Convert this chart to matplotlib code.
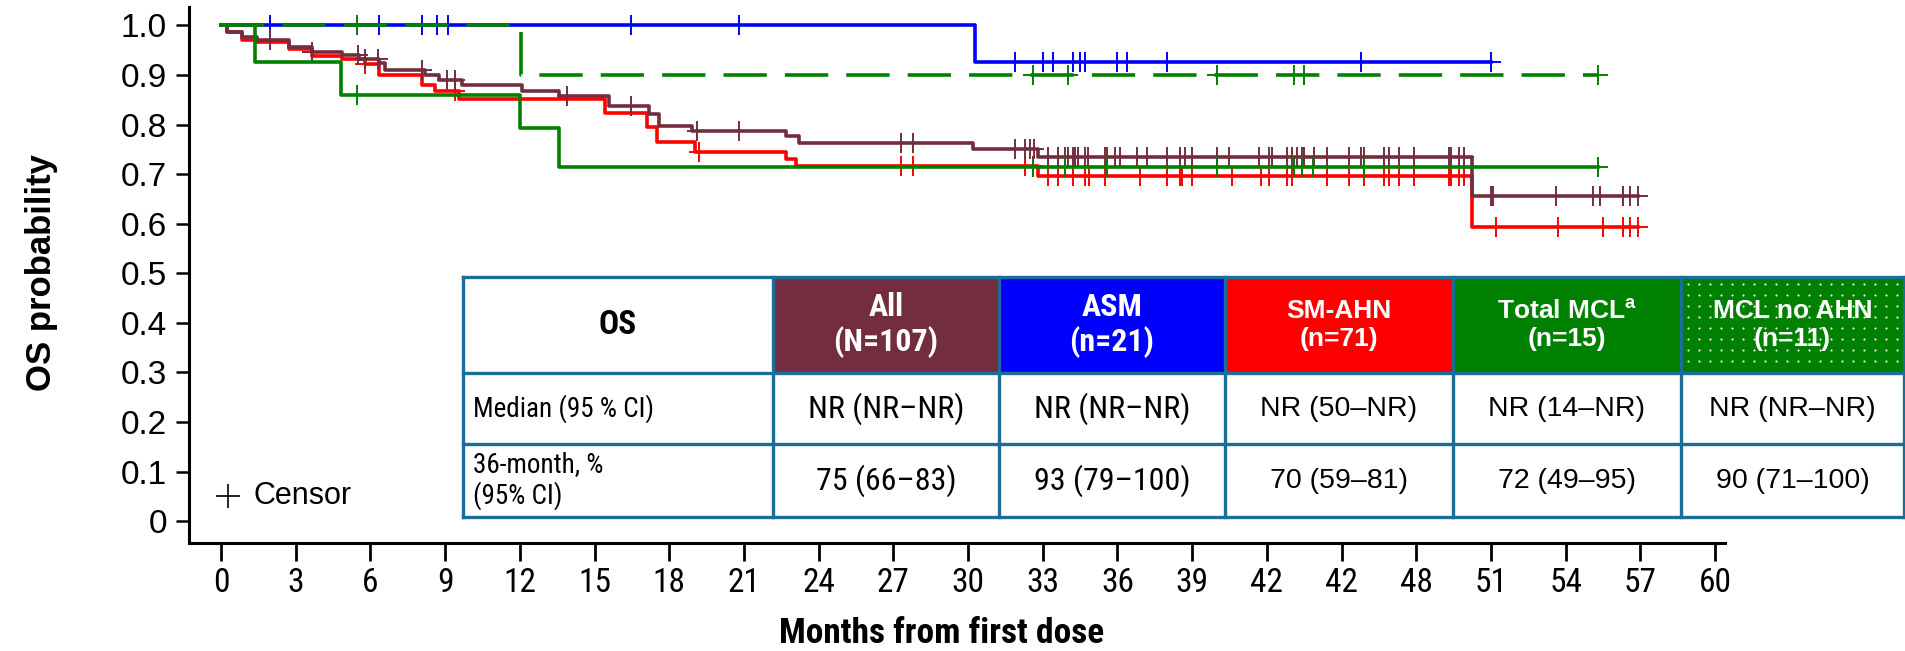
import numpy as np
import matplotlib
matplotlib.use("Agg")
import matplotlib.pyplot as plt
from matplotlib.patches import Rectangle

plt.rcParams['font.family'] = ['Liberation Sans', 'DejaVu Sans']
plt.rcParams['mathtext.fontset'] = 'custom'
plt.rcParams['mathtext.bf'] = 'Liberation Sans:bold'
plt.rcParams['mathtext.rm'] = 'Liberation Sans'
# condensed look for some labels, first installed one wins
NARROW = ['Liberation Sans Narrow', 'Roboto Condensed', 'DejaVu Sans Condensed',
          'Liberation Sans']
REGULAR = ['Liberation Sans', 'DejaVu Sans']

# ---- curve data ----
# step times (months) and survival after each step, plus censor times
all_t = [0, 0.24, 0.84, 1.45, 2.72, 3.65, 4.86, 5.53, 6.33, 6.6, 8.2, 8.74, 9.68,
         12.08, 13.56, 15.57, 17.2, 17.6, 18.9, 22.7, 23.2, 30.2, 32.8, 50.25]
all_s = [1.0, 0.986, 0.976, 0.97, 0.956, 0.947, 0.941, 0.932, 0.924, 0.91, 0.899, 0.89, 0.88,
         0.868, 0.858, 0.838, 0.821, 0.797, 0.787, 0.777, 0.762, 0.75, 0.735, 0.655]
all_cens = [1.96, 3.65, 5.49, 5.8, 6.3, 8.07, 9.08, 9.41, 13.9, 16.45, 19.1, 20.8, 27.3, 27.8,
            31.9, 32.3, 32.5, 32.65, 33.2, 33.6, 33.9, 34.0, 34.2, 34.3, 34.4, 34.7, 34.8,
            35.5, 35.6, 35.9, 36.1, 36.8, 37.2, 38.0, 38.5, 38.7, 39.0, 40.0, 40.5, 41.7,
            42.1, 42.2, 42.8, 43.0, 43.2, 43.4, 43.5, 43.9, 44.4, 45.3, 45.8, 45.9, 46.7,
            46.9, 47.3, 47.9, 49.3, 49.4, 49.7, 49.9, 51.0, 51.1, 53.6, 55.1, 55.4, 56.3,
            56.6, 56.9]

asm_t = [0, 30.3]
asm_s = [1.0, 0.926]
asm_cens = [1.96, 6.35, 8.07, 8.67, 9.12, 16.45, 20.8, 31.9, 33.0, 33.4, 34.2, 34.5, 34.7,
            36.0, 36.4, 38.0, 45.8, 51.0]

ahn_t = [0, 0.24, 0.84, 1.45, 2.72, 3.65, 4.86, 5.8, 6.33, 8.07, 8.6, 9.55, 15.43, 17.1,
         17.5, 19.05, 22.7, 23.1, 32.8, 50.25]
ahn_s = [1.0, 0.986, 0.971, 0.966, 0.953, 0.939, 0.932, 0.922, 0.899, 0.88, 0.868, 0.851,
         0.824, 0.794, 0.764, 0.745, 0.73, 0.717, 0.697, 0.593]
ahn_cens = [5.8, 9.4, 19.2, 27.3, 27.8, 32.3, 32.6, 33.2, 33.6, 34.2, 34.7, 34.85, 35.5,
            36.9, 38.0, 38.5, 38.6, 39.0, 40.6, 41.75, 42.1, 42.8, 43.0, 44.4, 45.3, 45.9,
            46.7, 46.9, 47.3, 47.9, 49.3, 49.4, 49.7, 49.9, 51.2, 53.7, 55.5, 56.3, 56.6, 56.9]

mcl_t = [0, 1.37, 4.8, 12.0, 13.56]
mcl_s = [1.0, 0.927, 0.859, 0.792, 0.714]
mcl_cens = [5.45, 32.6, 33.9, 35.6, 40.0, 43.1, 43.4, 43.85, 45.9, 55.3]

mclna_t = [0, 12.05]
mclna_s = [1.0, 0.9]
mclna_cens = [5.45, 32.6, 34.0, 40.0, 43.1, 43.5, 55.3]

x_ticks = [0, 3, 6, 9, 12, 15, 18, 21, 24, 27, 30, 33, 36, 39, 42, 45, 48, 51, 54, 57, 60]
x_labels = ['0', '3', '6', '9', '12', '15', '18', '21', '24', '27', '30', '33', '36', '39',
            '42', '42', '48', '51', '54', '57', '60']
y_ticks = [0, 0.1, 0.2, 0.3, 0.4, 0.5, 0.6, 0.7, 0.8, 0.9, 1.0]
y_labels = ['0', '0.1', '0.2', '0.3', '0.4', '0.5', '0.6', '0.7', '0.8', '0.9', '1.0']

# ---- table contents ----
col_heads = ['All\n(N=107)', 'ASM\n(n=21)', 'SM-AHN\n(n=71)',
             'Total MCL$^{\\mathbf{a}}$\n(n=15)', 'MCL no AHN\n(n=11)']
median_row = ['NR (NR\u2013NR)', 'NR (NR\u2013NR)', 'NR (50\u2013NR)', 'NR (14\u2013NR)',
              'NR (NR\u2013NR)']
m36_row = ['75 (66\u201383)', '93 (79\u2013100)', '70 (59\u201381)', '72 (49\u201395)',
           '90 (71\u2013100)']

MAROON = '#722E3F'
BLUE = '#0000FF'
RED = '#FF0000'
GREEN = '#008000'
TEAL = '#1A6E98'
head_colors = [MAROON, BLUE, RED, GREEN, GREEN]


def step_at(t, s, c):
    idx = np.searchsorted(t, c, side='right') - 1
    return np.array(s)[idx]


fig = plt.figure(figsize=(19.06, 6.51), dpi=100)
ax = fig.add_axes([189 / 1906, 1 - 543 / 651, (1725 - 189) / 1906, (543 - 7) / 651])

curves = [
    (asm_t, asm_s, asm_cens, BLUE, '-', 2),
    (ahn_t, ahn_s, ahn_cens, RED, '-', 3),
    (all_t, all_s, all_cens, MAROON, '-', 4),
    (mcl_t, mcl_s, mcl_cens, GREEN, '-', 5),
    (mclna_t, mclna_s, mclna_cens, GREEN, (0, (12, 5)), 6),
]
for t, s, cens, col, ls, z in curves:
    end = max(cens)
    ax.step(t + [end], s + [s[-1]], where='post', color=col, lw=2.6, ls=ls, zorder=z)
    ax.plot(cens, step_at(t, s, cens), ls='none', marker='+', ms=15, mew=1.4,
            color=col, zorder=z)

ax.set_xlim(-1.285, 60.4)
ax.set_ylim(-0.044, 1.037)
ax.set_xticks(x_ticks)
ax.set_xticklabels(x_labels, family=NARROW, fontsize=24)
ax.set_yticks(y_ticks)
ax.set_yticklabels(y_labels, fontsize=24)
ax.tick_params(axis='x', direction='out', length=13, width=2, pad=4)
ax.tick_params(axis='y', direction='out', length=9.5, width=1.8, pad=6.5)
for side in ['top', 'right']:
    ax.spines[side].set_visible(False)
for side in ['left', 'bottom']:
    ax.spines[side].set_linewidth(2.2)
ax.set_xlabel('Months from first dose', family=NARROW, fontsize=25.5, fontweight='bold',
              va='center')
ax.xaxis.set_label_coords(0.49, -0.168)
ax.set_ylabel('OS probability', fontsize=25, fontweight='bold')
ax.yaxis.set_label_coords(-0.085, 0.504)

# censor legend
ax.plot([0.0254], [0.088], marker='+', ms=17, mew=1.2, color='black', ls='none',
        transform=ax.transAxes)
ax.text(0.0417, 0.088, 'Censor', transform=ax.transAxes, fontsize=22, va='center')

# ---- table overlay ----
tab = fig.add_axes([0, 0, 1, 1], zorder=10)
tab.set_xlim(0, 1906)
tab.set_ylim(651, 0)
tab.axis('off')

xe = [463, 773, 999, 1225, 1453, 1681, 1904]
ye = [277, 373, 444, 517]

# white background behind the table
tab.add_patch(Rectangle((xe[0], ye[0]), xe[-1] - xe[0], ye[-1] - ye[0],
                        facecolor='white', edgecolor='none', zorder=1))
for j, (head, hc) in enumerate(zip(col_heads, head_colors)):
    x0, x1 = xe[j + 1], xe[j + 2]
    tab.add_patch(Rectangle((x0, ye[0]), x1 - x0, ye[1] - ye[0], facecolor=hc,
                            edgecolor='none', zorder=2))
    if j == 4:
        # white dot pattern of the last header cell
        gx, gy = np.meshgrid(np.arange(x0 + 7, x1 - 3, 11), np.arange(ye[0] + 7, ye[1] - 3, 11))
        tab.scatter(gx.ravel(), gy.ravel(), s=2.2, color='white', lw=0, zorder=3)
    if j < 2:
        fam, hsize, bsize = NARROW, 23, 23
    else:
        fam, hsize, bsize = REGULAR, 19, 20.5
    tab.text((x0 + x1) / 2, (ye[0] + ye[1]) / 2, head, ha='center', va='center',
             color='white', fontweight='bold', fontsize=hsize, family=fam,
             linespacing=1.2, zorder=4)
    tab.text((x0 + x1) / 2, (ye[1] + ye[2]) / 2, median_row[j], ha='center',
             va='center', fontsize=bsize, family=fam, zorder=4)
    tab.text((x0 + x1) / 2, (ye[2] + ye[3]) / 2, m36_row[j], ha='center',
             va='center', fontsize=bsize, family=fam, zorder=4)

tab.text((xe[0] + xe[1]) / 2, (ye[0] + ye[1]) / 2, 'OS', ha='center', va='center',
         fontweight='bold', fontsize=24, family=NARROW, zorder=4)
tab.text(xe[0] + 10, (ye[1] + ye[2]) / 2, 'Median (95 % CI)', ha='left', va='center',
         fontsize=19.5, family=NARROW, zorder=4)
tab.text(xe[0] + 10, (ye[2] + ye[3]) / 2, '36-month, %\n(95% CI)', ha='left',
         va='center', fontsize=19.5, family=NARROW, linespacing=1.15, zorder=4)

for x in xe:
    tab.plot([x, x], [ye[0], ye[-1]], color=TEAL, lw=2.4, zorder=5,
             solid_capstyle='projecting')
for y in ye:
    tab.plot([xe[0], xe[-1]], [y, y], color=TEAL, lw=2.4, zorder=5,
             solid_capstyle='projecting')

fig.savefig('out.png', dpi=100)
